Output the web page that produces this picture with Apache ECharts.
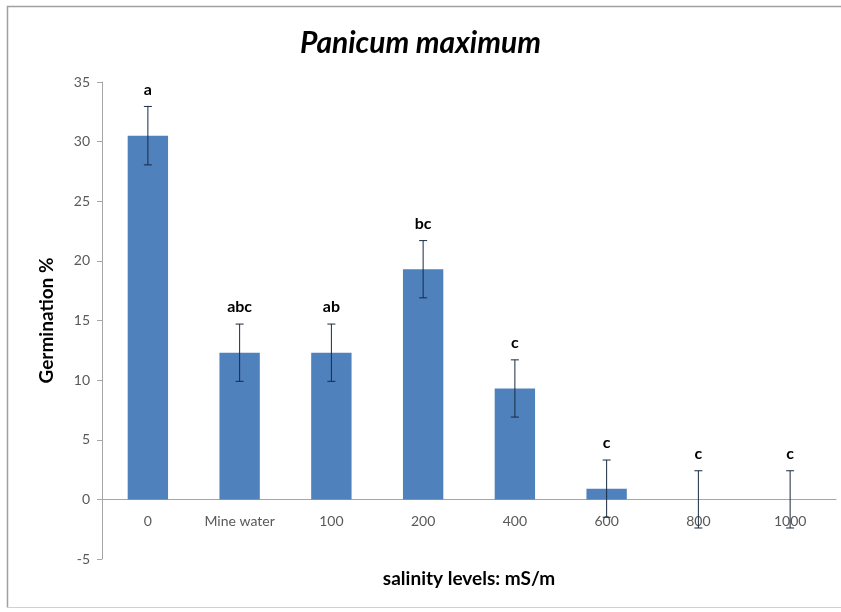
<!DOCTYPE html>
<html>
<head>
<meta charset="utf-8">
<script src="https://cdn.jsdelivr.net/npm/echarts@6/dist/echarts.min.js"></script>
<style>html,body{margin:0;padding:0;background:#fff;overflow:hidden;}#c{width:841px;height:612px;}</style>
</head>
<body>
<div id="c"></div>
<script>
const categories = ['0', 'Mine water', '100', '200', '400', '600', '800', '1000'];
const germination = [30.5, 12.3, 12.3, 19.3, 9.3, 0.9, 0, 0];
const errors = [2.45, 2.4, 2.4, 2.4, 2.4, 2.4, 2.4, 2.4];
const letters = ['a', 'abc', 'ab', 'bc', 'c', 'c', 'c', 'c'];
const yTicks = { min: -5, max: 35, interval: 5 };

const errData = categories.map((c, i) => [i, germination[i] - errors[i], germination[i] + errors[i]]);

const chart = echarts.init(document.getElementById('c'));
chart.setOption({
  backgroundColor: '#fff',
  animation: false,
  title: {
    text: 'Panicum maximum',
    left: 'center',
    top: 23,
    textStyle: { fontFamily: 'Lato', fontStyle: 'italic', fontWeight: 'bold', fontSize: 30, color: '#000' }
  },
  graphic: [
    { type: 'line', shape: { x1: 7, y1: 6.5, x2: 841, y2: 6.5 }, style: { stroke: '#a0a0a0', lineWidth: 1.5 }, silent: true },
    { type: 'line', shape: { x1: 7.5, y1: 6, x2: 7.5, y2: 608 }, style: { stroke: '#a0a0a0', lineWidth: 1.5 }, silent: true },
    { type: 'line', shape: { x1: 7, y1: 607.5, x2: 841, y2: 607.5 }, style: { stroke: '#d0d0d0', lineWidth: 1 }, silent: true }
  ],
  grid: { left: 102, right: 5, top: 82, bottom: 53, outerBoundsMode: 'none', containLabel: false },
  xAxis: {
    type: 'category',
    data: categories,
    name: 'salinity levels: mS/m',
    nameLocation: 'middle',
    nameGap: 10,
    nameMoveOverlap: false,
    nameTextStyle: { fontFamily: 'Lato', fontWeight: 'bold', fontSize: 19, color: '#000' },
    axisLine: { lineStyle: { color: '#a6a6a6' } },
    axisTick: { show: false },
    axisLabel: { color: '#595959', fontFamily: 'Lato', fontSize: 14, margin: -45 }
  },
  yAxis: {
    type: 'value',
    min: yTicks.min, max: yTicks.max, interval: yTicks.interval,
    name: 'Germination %',
    nameLocation: 'middle',
    nameGap: 46,
    nameTextStyle: { fontFamily: 'Lato', fontWeight: 'bold', fontSize: 19, color: '#000' },
    axisLine: { show: true, lineStyle: { color: '#a6a6a6' } },
    axisTick: { show: true, length: 5, lineStyle: { color: '#a6a6a6' } },
    splitLine: { show: false },
    axisLabel: { color: '#595959', fontFamily: 'Lato', fontSize: 14, margin: 12 }
  },
  series: [
    {
      type: 'bar',
      data: germination,
      barWidth: '44%',
      itemStyle: { color: '#4f81bd' }
    },
    {
      type: 'custom',
      data: errData,
      z: 10,
      renderItem: function (params, api) {
        const x = api.value(0);
        const lo = api.coord([x, api.value(1)]);
        const hi = api.coord([x, api.value(2)]);
        const cap = 4;
        return {
          type: 'group',
          children: [
            { type: 'line', shape: { x1: hi[0], y1: hi[1], x2: lo[0], y2: lo[1] }, style: { stroke: '#1a2a40', lineWidth: 1 } },
            { type: 'line', shape: { x1: hi[0] - cap, y1: hi[1], x2: hi[0] + cap, y2: hi[1] }, style: { stroke: '#1a2a40', lineWidth: 1 } },
            { type: 'line', shape: { x1: lo[0] - cap, y1: lo[1], x2: lo[0] + cap, y2: lo[1] }, style: { stroke: '#1a2a40', lineWidth: 1 } },
            { type: 'text', x: hi[0], y: hi[1] - 9, style: { text: letters[params.dataIndex], align: 'center', verticalAlign: 'bottom', fontFamily: 'Lato', fontWeight: 'bold', fontSize: 16, fill: '#000' } }
          ]
        };
      }
    }
  ]
});
</script>
</body>
</html>
